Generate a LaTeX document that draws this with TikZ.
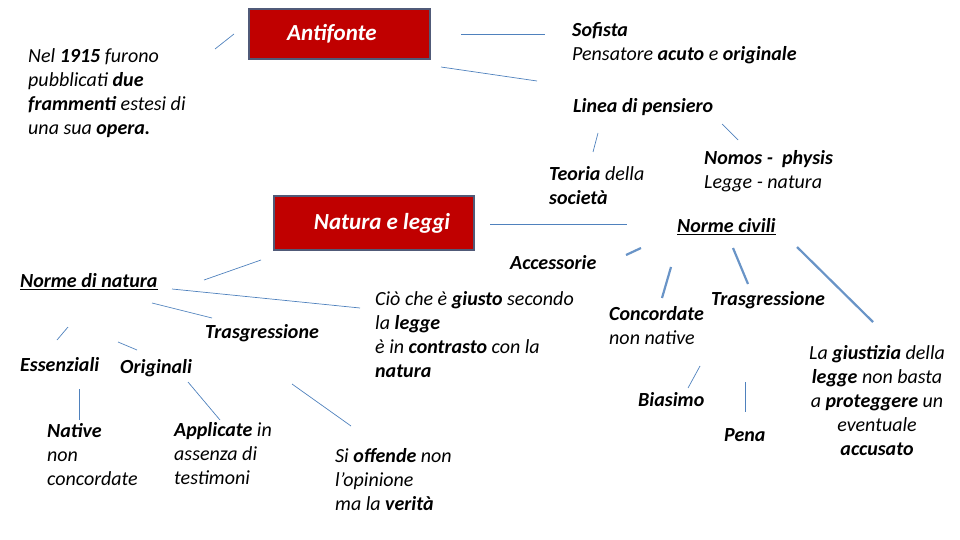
\documentclass[tikz,border=0pt]{standalone}
\usepackage{fontspec}
\setmainfont{Carlito}
\definecolor{boxred}{RGB}{192, 0, 0}
\definecolor{boxedge}{RGB}{80, 90, 120}
\definecolor{linkblue}{RGB}{79, 129, 189}
\usetikzlibrary{positioning}

\begin{document}
\begin{tikzpicture}[
    x=1pt, y=-1pt,
    txt/.style={anchor=north west, inner sep=0pt, align=left,
        font=\fontsize{20}{24}\selectfont\itshape},
    title/.style={rectangle, fill=boxred, draw=boxedge, line width=1.2pt,
        text=white, font=\fontsize{23}{26}\selectfont\bfseries\itshape},
    link/.style={linkblue, line width=0.7pt},
    biglink/.style={linkblue!85, line width=2.2pt}
]
    \useasboundingbox (0,0) rectangle (960,540);
    % Boxes
    \node[title, minimum width=181pt, minimum height=50pt] (antifonte) at (339.5,34) {\hspace*{-15pt}Antifonte};
    \node[title, minimum width=200pt, minimum height=54pt] (natura) at (374,223) {\hspace*{16pt}Natura e leggi};

    % Texts
    \node[txt] (opera) at (28,48) {Nel \textbf{1915} furono\\pubblicati \textbf{due}\\\textbf{frammenti} estesi di\\una sua \textbf{opera.}};
    \node[txt] (sofista) at (572,22) {\textbf{Sofista}\\Pensatore \textbf{acuto} e \textbf{originale}};
    \node[txt] (linea) at (573,98) {\textbf{Linea di pensiero}};
    \node[txt] (teoria) at (549,166) {\textbf{Teoria} della\\\textbf{società}};
    \node[txt] (nomos) at (704,150) {\textbf{Nomos -\ \ physis}\\Legge - natura};
    \node[txt] (civili) at (677,218) {\textbf{\underline{Norme civili}}};
    \node[txt] (accessorie) at (510,255) {\textbf{Accessorie}};
    \node[txt] (ndnatura) at (20,273) {\textbf{\underline{Norme di natura}}};
    \node[txt] (trasgr) at (205,324) {\textbf{Trasgressione}};
    \node[txt] (giusto) at (375,291) {Ciò che è \textbf{giusto} secondo\\la \textbf{legge}\\è in \textbf{contrasto} con la\\\textbf{natura}};
    \node[txt] (concordate) at (609,306) {\textbf{Concordate}\\non native};
    \node[txt] (trasgrc) at (711,291) {\textbf{Trasgressione}};
    \node[txt] (essenziali) at (20,357) {\textbf{Essenziali}};
    \node[txt] (originali) at (120,359) {\textbf{Originali}};
    \node[txt] (biasimo) at (638,392) {\textbf{Biasimo}};
    \node[txt] (pena) at (724,428) {\textbf{Pena}};
    \node[txt, anchor=north, align=center] (giustizia) at (877,345) {La \textbf{giustizia} della\\\textbf{legge} non basta\\a \textbf{proteggere} un\\eventuale\\\textbf{accusato}};
    \node[txt] (native) at (47,423) {\textbf{Native}\\non\\concordate};
    \node[txt] (applicate) at (174,422) {\textbf{Applicate} in\\assenza di\\testimoni};
    \node[txt] (offende) at (335,448) {Si \textbf{offende} non\\l’opinione\\ma la \textbf{verità}};

    % Line ends
    \foreach \n/\p in {a1/{215,49}, a2/{234,34}, b1/{461,34}, b2/{545,34},
        c1/{441,67}, c2/{537,81}, d1/{598,133}, d2/{593,152},
        e1/{722,124}, e2/{738,140}, f1/{490,224}, f2/{627,224},
        g1/{204,280}, g2/{261,260}, h1/{172,289}, h2/{360,308},
        i1/{152,303}, i2/{212,318}, j1/{57,340}, j2/{68,327},
        k1/{118,342}, k2/{137,350}, l1/{79,389}, l2/{79,420},
        m1/{188,382}, m2/{220,420}, n1/{292,384}, n2/{351,426},
        o1/{700,366}, o2/{688,388}, p1/{745,382}, p2/{745,412},
        q1/{641,248}, q2/{626,255}, r1/{671,267}, r2/{662,298},
        s1/{733,248}, s2/{748,284}, t1/{797,247}, t2/{873,322}}
        \coordinate (\n) at (\p);

    % Connectors
    \foreach \u/\v in {a1/a2, b1/b2, c1/c2, d1/d2, e1/e2, f1/f2, g1/g2, h1/h2,
        i1/i2, j1/j2, k1/k2, l1/l2, m1/m2, n1/n2, o1/o2, p1/p2}
        \draw[link] (\u) -- (\v);
    \foreach \u/\v in {q1/q2, r1/r2, s1/s2, t1/t2}
        \draw[biglink] (\u) -- (\v);
\end{tikzpicture}
\end{document}
